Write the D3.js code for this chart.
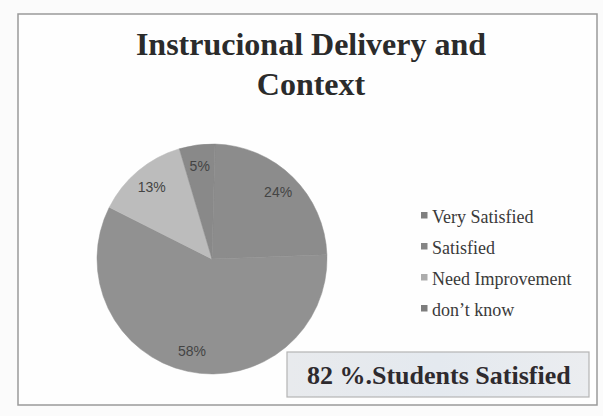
<!DOCTYPE html>
<html>
<head>
<meta charset="utf-8">
<script src="https://cdn.jsdelivr.net/npm/d3@7"></script>
<style>
  body { margin: 0; background: #fbfbfb; }
  svg { display: block; }
</style>
</head>
<body>
<svg id="chart" width="603" height="416"></svg>
<script>
// data
const categories = ["Very Satisfied", "Satisfied", "Need Improvement", "don\u2019t know"];
const values = [24, 58, 13, 5];
const colors = ["#8c8c8c", "#919191", "#bcbcbc", "#898989"];
const titleLines = ["Instrucional Delivery and", "Context"];
const summaryText = "82 %.Students Satisfied";

const svg = d3.select("#chart");

// scanned page frame
svg.append("rect")
    .attr("x", 18).attr("y", 14)
    .attr("width", 579).attr("height", 391)
    .attr("fill", "#fefefe")
    .attr("stroke", "#9a9a9a")
    .attr("stroke-width", 1.5);

// title
svg.append("g").selectAll("text")
    .data(titleLines)
    .join("text")
    .attr("x", 311)
    .attr("y", (d, i) => 55 + i * 40)
    .attr("text-anchor", "middle")
    .attr("font-family", "'Liberation Serif', 'Times New Roman', serif")
    .attr("font-weight", "bold")
    .attr("font-size", 32)
    .attr("fill", "#2b2b2b")
    .text(d => d);

// pie
const cx = 212, cy = 259, radius = 115;
const startRot = 1.5 * Math.PI / 180;

const pie = d3.pie()
    .sort(null)
    .startAngle(startRot)
    .endAngle(startRot + 2 * Math.PI)
    .value(d => d);

const arc = d3.arc().innerRadius(0).outerRadius(radius);
const labelArc = d3.arc().innerRadius(94).outerRadius(94);

const pieG = svg.append("g").attr("transform", `translate(${cx},${cy})`);
const arcs = pie(values);

pieG.selectAll("path")
    .data(arcs)
    .join("path")
    .attr("d", arc)
    .attr("fill", (d, i) => colors[i])
    .attr("stroke", (d, i) => colors[i])
    .attr("stroke-width", 0.5);

pieG.selectAll("text")
    .data(arcs)
    .join("text")
    .attr("transform", d => `translate(${labelArc.centroid(d)})`)
    .attr("text-anchor", "middle")
    .attr("dy", "0.35em")
    .attr("font-family", "'Liberation Sans', Arial, sans-serif")
    .attr("font-size", 14)
    .attr("fill", "#444")
    .text(d => d.data + "%");

// legend
const legend = svg.append("g").attr("transform", "translate(421,223)");
const rows = legend.selectAll("g")
    .data(categories)
    .join("g")
    .attr("transform", (d, i) => `translate(0,${i * 31})`);

rows.append("rect")
    .attr("x", 0).attr("y", -11)
    .attr("width", 6.5).attr("height", 6.5)
    .attr("fill", (d, i) => d3.color(colors[i]).darker(0.25));

rows.append("text")
    .attr("x", 11)
    .attr("y", 0)
    .attr("font-family", "'Liberation Serif', 'Times New Roman', serif")
    .attr("font-size", 18)
    .attr("fill", "#3a3a3a")
    .text(d => d);

// summary box
const grad = svg.append("defs").append("linearGradient")
    .attr("id", "boxGrad")
    .attr("x1", "0").attr("x2", "1");
grad.append("stop").attr("offset", "0%").attr("stop-color", "#e8eaed");
grad.append("stop").attr("offset", "50%").attr("stop-color", "#e4e9ef");
grad.append("stop").attr("offset", "100%").attr("stop-color", "#ebedf0");

svg.append("rect")
    .attr("x", 287).attr("y", 352)
    .attr("width", 302).attr("height", 45)
    .attr("fill", "url(#boxGrad)")
    .attr("stroke", "#b4b4b4")
    .attr("stroke-width", 1.2);

svg.append("text")
    .attr("x", 307).attr("y", 384)
    .attr("font-family", "'Liberation Serif', 'Times New Roman', serif")
    .attr("font-weight", "bold")
    .attr("font-size", 26)
    .attr("fill", "#2e2a2e")
    .text(summaryText);
</script>
</body>
</html>
